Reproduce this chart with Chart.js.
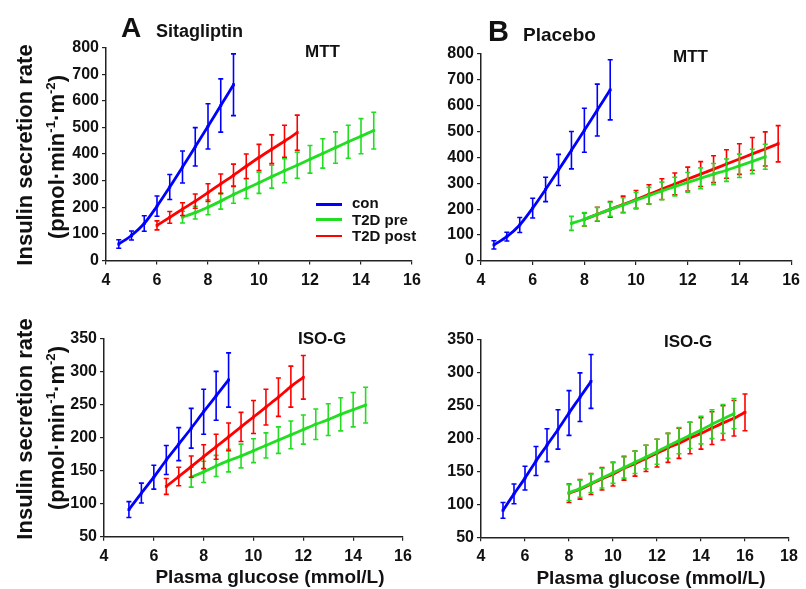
<!DOCTYPE html>
<html><head><meta charset="utf-8">
<script src="https://cdn.jsdelivr.net/npm/chart.js@4.4.1/dist/chart.umd.min.js"></script>
<style>
html,body{margin:0;padding:0;background:#fff;}
#wrap{position:relative;width:806px;height:589px;overflow:hidden;font-family:'Liberation Sans',Arial,sans-serif;font-weight:bold;color:#111;}
canvas{position:absolute;left:0;top:0;}
.t{position:absolute;white-space:nowrap;line-height:1;}
.rot{position:absolute;white-space:nowrap;line-height:1;font-size:22px;transform:translate(-50%,-50%) rotate(-90deg);}
.rot sup{font-size:0.6em;line-height:0;vertical-align:0.7em;}
.leg{position:absolute;left:316px;width:26px;height:2.5px;}
</style></head><body><div id="wrap">
<canvas id="cA1" width="806" height="589"></canvas>
<canvas id="cB1" width="806" height="589"></canvas>
<canvas id="cA2" width="806" height="589"></canvas>
<canvas id="cB2" width="806" height="589"></canvas>

<div class="t" style="left:121px;top:14px;font-size:28px;">A</div>
<div class="t" style="left:156px;top:22px;font-size:18px;">Sitagliptin</div>
<div class="t" style="left:488px;top:16.5px;font-size:29px;">B</div>
<div class="t" style="left:523px;top:24.5px;font-size:19px;">Placebo</div>
<div class="t" style="left:305px;top:42.5px;font-size:17px;">MTT</div>
<div class="t" style="left:673px;top:47.5px;font-size:17px;">MTT</div>
<div class="t" style="left:298px;top:329.5px;font-size:17px;">ISO-G</div>
<div class="t" style="left:664px;top:332.5px;font-size:17px;">ISO-G</div>

<div class="rot" style="left:25px;top:155px;">Insulin secretion rate</div>
<div class="rot" style="left:57px;top:157px;">(pmol·min<sup>-1</sup>·m<sup>-2</sup>)</div>
<div class="rot" style="left:25px;top:429px;">Insulin secretion rate</div>
<div class="rot" style="left:57px;top:428px;">(pmol·min<sup>-1</sup>·m<sup>-2</sup>)</div>

<div class="t" style="left:270px;top:567px;font-size:19px;transform:translateX(-50%);">Plasma glucose (mmol/L)</div>
<div class="t" style="left:651px;top:568px;font-size:19px;transform:translateX(-50%);">Plasma glucose (mmol/L)</div>

<div class="leg" style="top:203px;background:#0000ff;"></div>
<div class="leg" style="top:218px;background:#22dd22;"></div>
<div class="leg" style="top:234.5px;background:#ff0000;"></div>
<div class="t" style="left:352px;top:195px;font-size:15px;">con</div>
<div class="t" style="left:352px;top:211.5px;font-size:15px;">T2D pre</div>
<div class="t" style="left:352px;top:228px;font-size:15px;">T2D post</div>
</div>
<script>
// ---------- DATA ----------
const seriesLabels = ['con', 'T2D pre', 'T2D post'];

// MTT - control (same in both panels)
const conMttX   = [4.5, 5, 5.5, 6, 6.5, 7, 7.5, 8, 8.5, 9];
const conMttY   = [62, 94, 139, 204, 276, 351, 427, 504, 582, 660];
const conMttErr = [16, 17, 29, 38, 47, 60, 72, 85, 100, 116];

// A: Sitagliptin MTT
const sitaMttPreX   = [7, 7.5, 8, 8.5, 9, 9.5, 10, 10.5, 11, 11.5, 12, 12.5, 13, 13.5, 14, 14.5];
const sitaMttPreY   = [163, 180, 200, 223, 248, 270, 292, 315, 337, 358, 380, 402, 424, 446, 467, 488];
const sitaMttPreErr = [22, 24, 28, 30, 33, 37, 40, 43, 45, 49, 52, 55, 59, 62, 66, 69];
const sitaMttPostX   = [6, 6.5, 7, 7.5, 8, 8.5, 9, 9.5, 10, 10.5, 11, 11.5];
const sitaMttPostY   = [132, 162, 193, 223, 255, 288, 320, 354, 387, 418, 448, 480];
const sitaMttPostErr = [17, 22, 24, 27, 33, 37, 42, 46, 49, 54, 60, 66];

// B: Placebo MTT
const placMttPreX   = [7.5, 8, 8.5, 9, 9.5, 10, 10.5, 11, 11.5, 12, 12.5, 13, 13.5, 14, 14.5, 15];
const placMttPreY   = [145, 161, 180, 199, 216, 234, 252, 270, 287, 303, 319, 335, 350, 367, 384, 402];
const placMttPreErr = [27, 26, 26, 27, 28, 30, 32, 34, 36, 38, 40, 41, 43, 45, 47, 48];
const placMttPostX   = [8, 8.5, 9, 9.5, 10, 10.5, 11, 11.5, 12, 12.5, 13, 13.5, 14, 14.5, 15, 15.5];
const placMttPostY   = [160, 180, 199, 218, 237, 257, 277, 297, 316, 335, 354, 374, 393, 413, 432, 452];
const placMttPostErr = [25, 27, 30, 32, 35, 37, 40, 42, 46, 48, 52, 55, 59, 63, 66, 70];

// ISO-G - control (same in both panels)
const conIsoX   = [5, 5.5, 6, 6.5, 7, 7.5, 8, 8.5, 9];
const conIsoY   = [91, 116, 140, 166, 190, 214, 239, 263, 287];
const conIsoErr = [12, 15, 18, 22, 25, 30, 34, 37, 41];

// A: Sitagliptin ISO-G
const sitaIsoPreX   = [7.5, 8, 8.5, 9, 9.5, 10, 10.5, 11, 11.5, 12, 12.5, 13, 13.5, 14, 14.5];
const sitaIsoPreY   = [140, 148, 157, 165, 172, 180, 188, 196, 204, 212, 220, 227, 235, 242, 249];
const sitaIsoPreErr = [15, 16, 16, 17, 18, 18, 19, 20, 21, 22, 23, 24, 25, 26, 27];
const sitaIsoPostX   = [6.5, 7, 7.5, 8, 8.5, 9, 9.5, 10, 10.5, 11, 11.5, 12];
const sitaIsoPostY   = [126, 141, 156, 171, 186, 201, 216, 231, 246, 261, 277, 291];
const sitaIsoPostErr = [12, 14, 16, 18, 19, 21, 22, 25, 27, 29, 31, 33];

// B: Placebo ISO-G
const placIsoPreX   = [8, 8.5, 9, 9.5, 10, 10.5, 11, 11.5, 12, 12.5, 13, 13.5, 14, 14.5, 15, 15.5];
const placIsoPreY   = [118, 124, 132, 140, 148, 156, 164, 172, 180, 189, 197, 205, 213, 222, 230, 238];
const placIsoPreErr = [12, 13, 14, 15, 16, 16, 17, 18, 19, 19, 20, 20, 21, 22, 22, 23];
const placIsoPostX   = [8, 8.5, 9, 9.5, 10, 10.5, 11, 11.5, 12, 12.5, 13, 13.5, 14, 14.5, 15, 15.5, 16];
const placIsoPostY   = [117, 123, 131, 139, 146, 155, 162, 170, 178, 186, 193, 201, 208, 216, 224, 231, 240];
const placIsoPostErr = [14, 15, 16, 17, 18, 18, 19, 20, 21, 22, 23, 24, 24, 25, 26, 27, 28];

// ---------- STYLE ----------
const COLORS = {con: '#0000ff', pre: '#22dd22', post: '#ff0000'};
const FONT = "'Liberation Sans', Arial, sans-serif";
const tickFont = {family: FONT, size: 16, weight: 'bold'};

const errPlugin = {
  id: 'errbars',
  afterDatasetDraw(chart, args) {
    const ds = chart.data.datasets[args.index];
    if (!ds.err) return;
    const xs = chart.scales.x, ys = chart.scales.y, ctx = chart.ctx;
    ctx.save();
    ctx.strokeStyle = ds.borderColor;
    ctx.lineWidth = 1.6;
    ds.data.forEach((p, i) => {
      const px = xs.getPixelForValue(p.x);
      const e = ds.err[i];
      const y1 = ys.getPixelForValue(p.y + e), y2 = ys.getPixelForValue(p.y - e);
      ctx.beginPath();
      ctx.moveTo(px, y1); ctx.lineTo(px, y2);
      ctx.moveTo(px - 2.5, y1); ctx.lineTo(px + 2.5, y1);
      ctx.moveTo(px - 2.5, y2); ctx.lineTo(px + 2.5, y2);
      ctx.stroke();
    });
    ctx.restore();
  }
};

function pts(xs, ys) { return xs.map((x, i) => ({x: x, y: ys[i]})); }

function makeChart(id, area, xMax, yMin, yMax, yStep, series) {
  const YW = 60, XH = 30;
  new Chart(document.getElementById(id), {
    type: 'line',
    data: {
      datasets: series.map(s => ({
        label: s.label, data: pts(s.x, s.y), err: s.e,
        borderColor: s.c, backgroundColor: s.c,
        borderWidth: 2.8, pointRadius: 2, pointStyle: 'rect', pointBorderWidth: 0,
        tension: 0.3, order: s.o, fill: false
      }))
    },
    options: {
      responsive: false, animation: false, devicePixelRatio: 1,
      layout: {padding: {left: area.l - YW, right: 806 - area.r, top: area.t, bottom: 589 - area.b - XH}},
      plugins: {legend: {display: false}, tooltip: {enabled: false}},
      scales: {
        x: {
          type: 'linear', min: 4, max: xMax,
          ticks: {stepSize: 2, font: tickFont, color: '#111', padding: 6, maxRotation: 0},
          grid: {drawOnChartArea: false, drawTicks: true, tickLength: 4, color: '#222', lineWidth: 1.2},
          border: {color: '#222', width: 1.5},
          afterFit: s => { s.height = XH; }
        },
        y: {
          type: 'linear', min: yMin, max: yMax,
          ticks: {stepSize: yStep, font: tickFont, color: '#111', padding: 3},
          grid: {drawOnChartArea: false, drawTicks: true, tickLength: 4, color: '#222', lineWidth: 1.2},
          border: {color: '#222', width: 1.5},
          afterFit: s => { s.width = YW; }
        }
      }
    },
    plugins: [errPlugin]
  });
}

makeChart('cA1', {l: 106, r: 412, t: 47.5, b: 260.5}, 16, 0, 800, 100, [
  {label: seriesLabels[0], x: conMttX, y: conMttY, e: conMttErr, c: COLORS.con, o: 0},
  {label: seriesLabels[1], x: sitaMttPreX, y: sitaMttPreY, e: sitaMttPreErr, c: COLORS.pre, o: 2},
  {label: seriesLabels[2], x: sitaMttPostX, y: sitaMttPostY, e: sitaMttPostErr, c: COLORS.post, o: 1}
]);
makeChart('cB1', {l: 481, r: 792, t: 53.5, b: 261}, 16, 0, 800, 100, [
  {label: seriesLabels[0], x: conMttX, y: conMttY, e: conMttErr, c: COLORS.con, o: 0},
  {label: seriesLabels[1], x: placMttPreX, y: placMttPreY, e: placMttPreErr, c: COLORS.pre, o: 1},
  {label: seriesLabels[2], x: placMttPostX, y: placMttPostY, e: placMttPostErr, c: COLORS.post, o: 2}
]);
makeChart('cA2', {l: 104, r: 403, t: 338.3, b: 536.7}, 16, 50, 350, 50, [
  {label: seriesLabels[0], x: conIsoX, y: conIsoY, e: conIsoErr, c: COLORS.con, o: 0},
  {label: seriesLabels[1], x: sitaIsoPreX, y: sitaIsoPreY, e: sitaIsoPreErr, c: COLORS.pre, o: 2},
  {label: seriesLabels[2], x: sitaIsoPostX, y: sitaIsoPostY, e: sitaIsoPostErr, c: COLORS.post, o: 1}
]);
makeChart('cB2', {l: 481, r: 789, t: 340, b: 537.3}, 18, 50, 350, 50, [
  {label: seriesLabels[0], x: conIsoX, y: conIsoY, e: conIsoErr, c: COLORS.con, o: 0},
  {label: seriesLabels[1], x: placIsoPreX, y: placIsoPreY, e: placIsoPreErr, c: COLORS.pre, o: 1},
  {label: seriesLabels[2], x: placIsoPostX, y: placIsoPostY, e: placIsoPostErr, c: COLORS.post, o: 2}
]);
</script>
</body></html>
